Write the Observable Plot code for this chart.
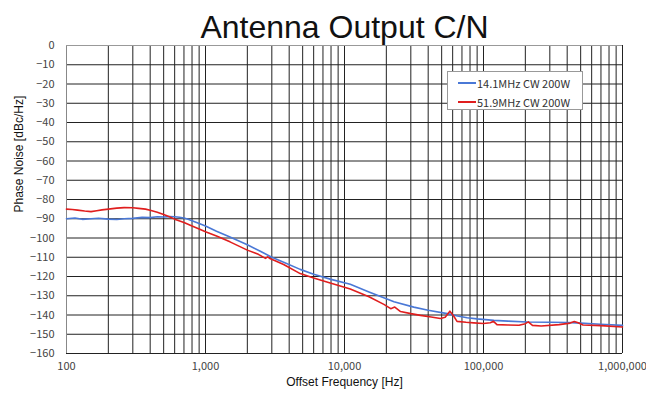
<!DOCTYPE html>
<html><head><meta charset="utf-8">
<script src="https://cdn.jsdelivr.net/npm/d3@7"></script>
<script src="https://cdn.jsdelivr.net/npm/@observablehq/plot@0.6"></script>
<style>
body{margin:0;background:#fff;}
#wrap{position:relative;width:646px;height:394px;}
#legend{position:absolute;left:447px;top:71px;width:136px;height:39px;border:1px solid #999;background:#fff;box-sizing:border-box;font-family:"Noto Sans CJK KR",sans-serif;font-size:11px;color:#333;}
.li{position:absolute;left:10px;display:flex;align-items:center;}
.li span.sw{display:inline-block;width:18px;height:2px;margin-right:1px;}
</style></head>
<body><div id="wrap"><div id="chart"></div><div id="legend"></div></div>
<script>
const title = "Antenna Output C/N";
const xLabel = "Offset Frequency [Hz]";
const yLabel = "Phase Noise [dBc/Hz]";
const seriesNames = ["14.1MHz CW 200W", "51.9MHz CW 200W"];
const seriesColors = ["#4a78d6", "#e01e1e"];
const xTicks = [100, 1000, 10000, 100000, 1000000];
const yTicks = [0, -10, -20, -30, -40, -50, -60, -70, -80, -90, -100, -110, -120, -130, -140, -150, -160];

const blueFreq = [100,115,130,150,170,200,230,260,300,350,400,450,500,550,600,650,700,750,800,900,1000,1200,1500,2000,2500,3000,3650,4800,6000,8000,11000,15000,20000,22700,31500,40000,54800,65000,76300,90000,118700,150000,206000,300000,400000,500000,695000,1000000];
const blueDb   = [-90,-89.6,-90.3,-90,-89.7,-90.2,-90.4,-90,-89.8,-89.3,-89.4,-89,-89.1,-88.9,-89,-89.2,-89.6,-90.3,-91,-92.5,-93.8,-96.5,-99.5,-103.5,-107,-110,-112.6,-116.3,-118.8,-121.5,-124,-128,-131.6,-133.1,-135.9,-137.5,-139.3,-140.5,-141.4,-142,-142.8,-143.2,-143.6,-143.8,-143.9,-144.2,-144.8,-145.4];

const redFreq = [100,110,120,135,150,165,180,200,230,260,300,330,370,400,450,500,550,600,700,800,900,1000,1200,1500,2000,2400,2700,2800,2900,3200,3650,4800,6000,8000,11000,15000,19200,21500,23000,25300,30000,35200,42000,49000,53000,57300,61000,64500,75000,85000,100000,112000,118000,125000,150000,180000,200000,210000,225000,260000,350000,420000,450000,480000,520000,700000,1000000];
const redDb   = [-85,-85.2,-85.5,-86,-86.3,-85.8,-85.4,-85,-84.5,-84.2,-84.3,-84.6,-85,-85.6,-86.6,-87.8,-89,-90.2,-92,-93.8,-95.3,-96.8,-99,-102,-106.3,-108.5,-110.6,-109.8,-110.6,-112,-113.8,-118.5,-120.8,-123.5,-126.5,-130.5,-134.5,-136.7,-135.9,-138.2,-139.3,-140.2,-141,-141.8,-141.2,-138,-140.5,-143.3,-143.8,-144.1,-144.4,-144,-143.3,-145,-145.2,-145.3,-144.5,-143.6,-145.4,-145.7,-145,-144.2,-143.4,-144,-145.2,-145.5,-146.2];

const data = [
  ...blueFreq.map((f,i)=>({f, v: blueDb[i], s: seriesNames[0]})),
  ...redFreq.map((f,i)=>({f, v: redDb[i], s: seriesNames[1]}))
];
const xGrid = [];
for (let d = 0; d < xTicks.length - 1; d++) for (let m = 1; m <= 9; m++) xGrid.push(xTicks[d]*m);
xGrid.push(xTicks[xTicks.length-1]);

const tickFont = '"Noto Sans CJK KR", sans-serif';
const chart = Plot.plot({
  width: 646, height: 394,
  marginLeft: 66, marginRight: 24, marginTop: 45, marginBottom: 41,
  style: {fontFamily: tickFont, fontSize: "11px", color: "#333", background: "#fff"},
  x: {type: "log", domain: [100, 1000000]},
  y: {domain: [-160, 0]},
  color: {domain: seriesNames, range: seriesColors},
  marks: [
    Plot.gridX(xGrid, {stroke: "#222", strokeOpacity: 1, strokeWidth: 1}),
    Plot.gridY(yTicks, {stroke: "#222", strokeOpacity: 1, strokeWidth: 1}),
    Plot.axisX(xTicks, {tickSize: 0, tickPadding: 9, tickFormat: d3.format(","), label: null, fill: "#444"}),
    Plot.axisY(yTicks, {tickSize: 0, tickPadding: 12, label: null, fill: "#444"}),
    Plot.ruleX([100], {stroke: "#888"}),
    Plot.ruleY([0], {stroke: "#999"}),
    Plot.line(data, {x: "f", y: "v", z: "s", stroke: "s", strokeWidth: 1.6}),
    Plot.text([title], {frameAnchor: "top", lineAnchor: "bottom", dy: -8, fontSize: 32, fontFamily: '"Liberation Sans", Arial, sans-serif', fill: "#111"}),
    Plot.text([xLabel], {frameAnchor: "bottom", dy: 32, fontSize: 12, fontFamily: '"Liberation Sans", Arial, sans-serif', fill: "#111"}),
    Plot.text([yLabel], {frameAnchor: "left", dx: -47, dy: 13, rotate: -90, fontSize: 12, fontFamily: '"Liberation Sans", Arial, sans-serif', fill: "#111"})
  ]
});
document.getElementById("chart").appendChild(chart);
const lg = document.getElementById("legend");
seriesNames.forEach((n,i)=>{
  const d = document.createElement("div");
  d.className = "li";
  d.style.top = (i === 0 ? 3 : 22) + "px";
  d.innerHTML = `<span class="sw" style="background:${seriesColors[i]}"></span><span>${n}</span>`;
  lg.appendChild(d);
});
</script></body></html>
